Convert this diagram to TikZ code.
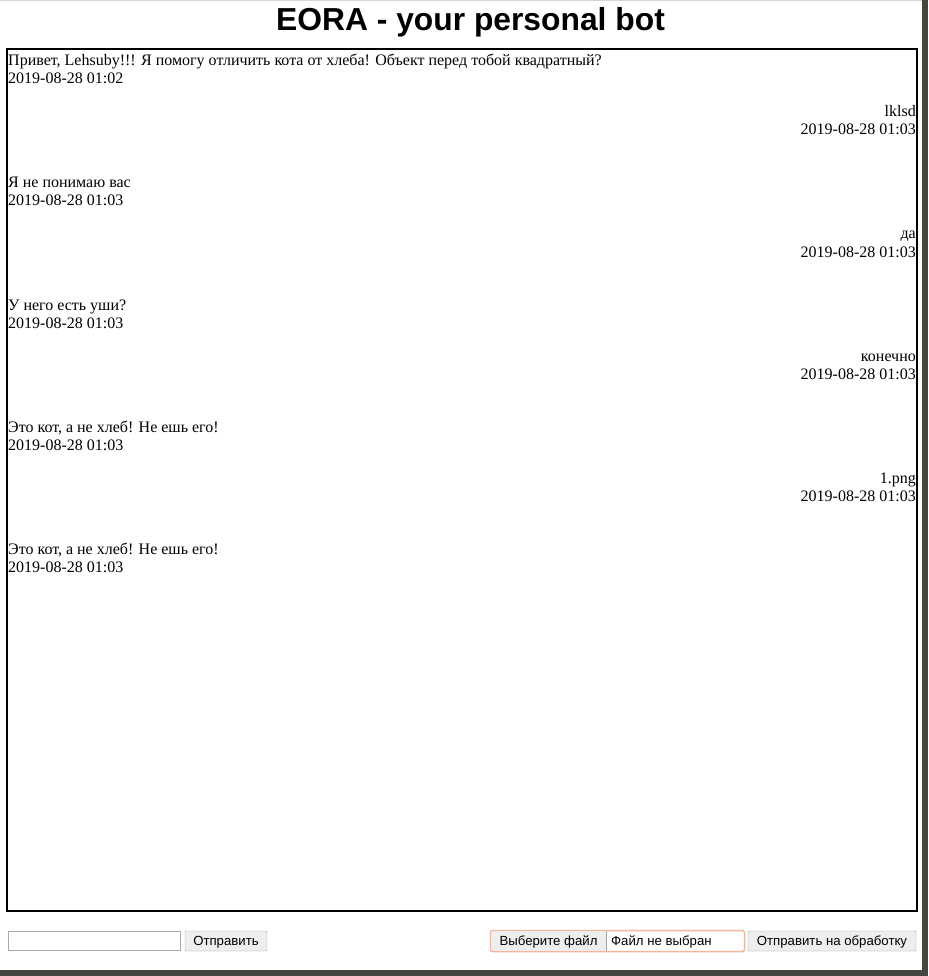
\documentclass[tikz,border=0pt]{standalone}
\usepackage{fontspec}
\setmainfont{Liberation Serif}
\newfontfamily\uisans{Liberation Sans}
\usetikzlibrary{positioning}
\definecolor{barcol}{HTML}{45463F}
\definecolor{topline}{HTML}{D6D6D6}
\definecolor{btnfill}{HTML}{EEEEEE}
\definecolor{btnline}{HTML}{A4A4A4}
\definecolor{fieldline}{HTML}{ABABAB}
\definecolor{fileline}{HTML}{F5B59B}

\begin{document}
\begin{tikzpicture}[x=1pt, y=-1pt,
    msgl/.style={anchor=base west, inner sep=0pt, font=\fontsize{16}{18}\selectfont},
    msgr/.style={anchor=base east, inner sep=0pt, font=\fontsize{16}{18}\selectfont},
    btn/.style={draw=btnline, fill=btnfill, rounded corners=1pt, inner sep=0pt, minimum height=20pt, text height=10.5pt, text depth=2.5pt, font=\uisans\fontsize{13.2}{15}\selectfont},
    uitext/.style={inner sep=0pt, anchor=base west, font=\uisans\fontsize{13.2}{15}\selectfont}]
                \useasboundingbox (0,0) rectangle (928,976);
                \fill[white] (0,0) rectangle (928,976);
                \fill[topline] (0,0) rectangle (922,1.5);
                \fill[barcol] (922,0) rectangle (928,976);
                \fill[barcol] (0,970) rectangle (928,976);
                % title
                \node[inner sep=0pt, anchor=base, font=\uisans\bfseries\fontsize{31.8}{36}\selectfont] (title) at (470.5,30.5) {EORA - your personal bot};
                % chat window
                \draw[line width=2pt] (7,49) rectangle (917,911);
                \node[msgl] (q1) at (8,66) {Привет, Lehsuby!!! Я помогу отличить кота от хлеба! Объект перед тобой квадратный?};
                \node[msgl] (q1t) at (8,84) {2019-08-28 01:02};
                \node[msgr] (a1) at (916,117) {lklsd};
                \node[msgr] (a1t) at (916,135) {2019-08-28 01:03};
                \node[msgl] (q2) at (8,188) {Я не понимаю вас};
                \node[msgl] (q2t) at (8,206) {2019-08-28 01:03};
                \node[msgr] (a2) at (916,239) {да};
                \node[msgr] (a2t) at (916,257) {2019-08-28 01:03};
                \node[msgl] (q3) at (8,310) {У него есть уши?};
                \node[msgl] (q3t) at (8,328) {2019-08-28 01:03};
                \node[msgr] (a3) at (916,361) {конечно};
                \node[msgr] (a3t) at (916,379) {2019-08-28 01:03};
                \node[msgl] (q4) at (8,432) {Это кот, а не хлеб! Не ешь его!};
                \node[msgl] (q4t) at (8,450) {2019-08-28 01:03};
                \node[msgr] (a4) at (916,483) {1.png};
                \node[msgr] (a4t) at (916,501) {2019-08-28 01:03};
                \node[msgl] (q5) at (8,554) {Это кот, а не хлеб! Не ешь его!};
                \node[msgl] (q5t) at (8,572) {2019-08-28 01:03};
                % form
                \draw[fieldline, fill=white] (8.5,931.5) rectangle (180.5,950.5);
                \node[btn, minimum width=82pt] (send) at (226,941) {Отправить};
                \draw[fileline, line width=1.5pt, rounded corners=2pt] (490.5,930.5) rectangle (744.5,951.5);
                \node[btn, draw=none, rounded corners=0pt, minimum width=114pt, minimum height=20pt] (choose) at (548.5,941) {Выберите файл};
                \draw[btnline] (choose.north east) -- (choose.south east);
                \node[uitext] (nofile) at (611,945.5) {Файл не выбран};
                \node[btn, minimum width=168pt] (upload) at (832,941) {Отправить на обработку};
\end{tikzpicture}
\end{document}
